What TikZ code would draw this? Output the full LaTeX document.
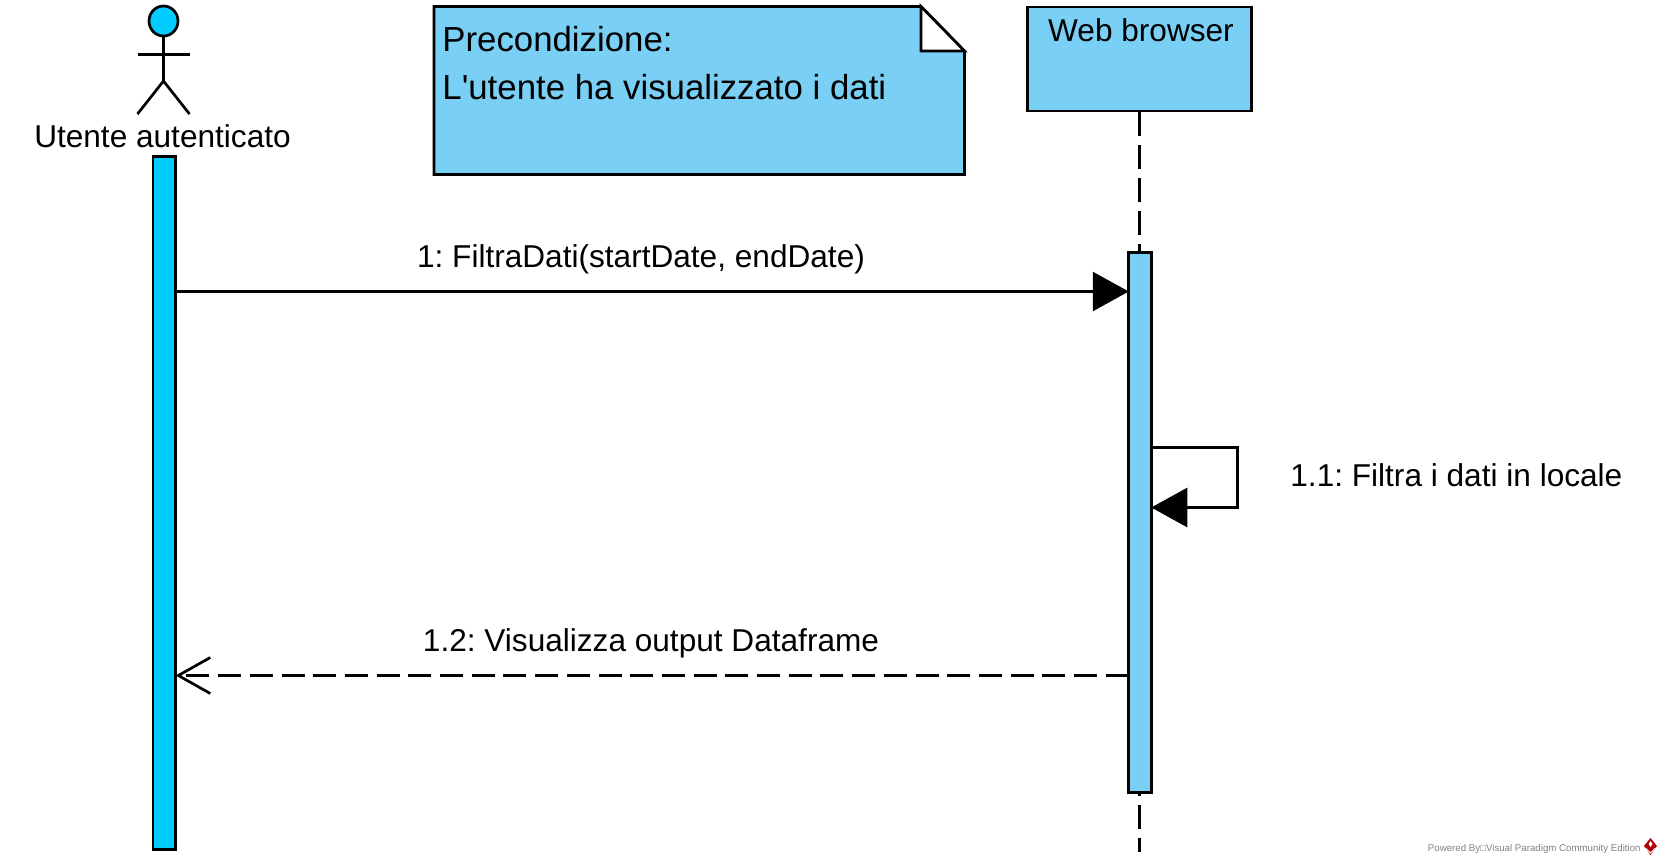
\documentclass[tikz,border=0pt]{standalone}
\usepackage{fontspec}
\setmainfont{Liberation Sans}
\usepackage{xcolor}
\usetikzlibrary{shapes, arrows.meta, positioning, calc}
\definecolor{actorblue}{HTML}{00CCFF}
\definecolor{boxblue}{HTML}{7ACFF5}
\frenchspacing
\tikzset{
    umlline/.style={
        line width=1.35pt,
        draw=black,
    },
    lifebox/.style={
        umlline,
        rectangle,
        fill=boxblue,
        inner sep=0pt,
        minimum width=112pt,
        minimum height=52pt,
    },
    activation/.style={
        umlline,
        rectangle,
        inner sep=0pt,
        outer sep=0pt,
        minimum width=11.25pt,
    },
    msgtext/.style={
        inner sep=0pt,
        anchor=base,
        font=\fontsize{15.8}{18}\selectfont,
    },
    call/.style={
        umlline,
        -{Triangle[length=18pt,width=19.5pt]},
    },
    reply/.style={
        umlline,
        dash pattern=on 11.5pt off 4.35pt,
        -{Straight Barb[length=16pt,width=18pt]},
    },
    lifeline/.style={
        umlline,
        dash pattern=on 12pt off 4.5pt,
    },
}

\begin{document}
\begin{tikzpicture}[x=0.5pt, y=-0.5pt]
      \useasboundingbox (0,0) rectangle (1662,864);

      \node[umlline, ellipse, fill=actorblue, inner sep=0pt, minimum width=14.5pt, minimum height=15pt] (head) at (163.5,21) {};
      \coordinate (hip) at (163.5,81);
      \coordinate (armL) at (137.5,54.5);
      \coordinate (armR) at (189.5,54.5);
      \coordinate (footL) at (137.5,114);
      \coordinate (footR) at (189.5,114);
      \draw[umlline] (head.south) -- (hip);
      \draw[umlline] (armL) -- (armR);
      \draw[umlline] (footL) -- (hip) -- (footR);
      \node[msgtext] (actor) at (162.5,147) {Utente autenticato};

      \node[activation, fill=actorblue, minimum height=346.5pt] (userbar) at (164.3,503) {};

      \draw[umlline, fill=boxblue] (434,6.5) -- (921,6.5) -- (964.5,51) -- (964.5,174.5) -- (434,174.5) -- cycle;
      \draw[umlline, fill=white] (921,6.5) -- (921,51) -- (964.5,51) -- cycle;
      \node[inner sep=0pt, anchor=north west, align=left, font=\fontsize{17.4}{24}\selectfont] (note) at (442,26) {Precondizione:\\L\textquotesingle utente ha visualizzato i dati};

      \node[lifebox] (browser) at (1139.5,59) {};
      \node[msgtext] (browsertext) at (1141,41.5) {Web browser};
      \coordinate (lifeend) at (1139.5,852);
      \draw[lifeline] (browser.south) -- (lifeend);

      \node[activation, fill=boxblue, minimum height=270pt] (webbar) at (1140,522.5) {};

      \coordinate (m1) at (0,291.5);
      \coordinate (m2a) at (0,447.5);
      \coordinate (m2b) at (0,507.5);
      \coordinate (m3) at (0,675.5);
      \coordinate (turn) at (1237.5,0);

      \draw[call] (userbar.east |- m1) -- (webbar.west |- m1);
      \draw[call] (webbar.east |- m2a) -- (turn |- m2a) -- (turn |- m2b) -- (webbar.east |- m2b);
      \draw[reply] (webbar.west |- m3) -- (userbar.east |- m3);

      \node[msgtext] (m1text) at (641,267) {1: FiltraDati(startDate, endDate)};
      \node[msgtext, anchor=base west] (m2text) at (1290,486) {1.1: Filtra i dati in locale};
      \node[msgtext] (m3text) at (651,651) {1.2: Visualizza output Dataframe};

      \node[inner sep=0pt, anchor=base east, text=gray, font=\fontsize{4.85}{6}\selectfont] (powered) at (1641,851) {Powered By□Visual Paradigm Community Edition};
      \fill[red!70!black] (1650.5,838) -- (1657,846) -- (1650.5,855) -- (1644,846) -- cycle;
      \draw[white, line width=0.4pt] (1645.5,848) -- (1650.5,853) -- (1655.5,848);
      \fill[white] (1650.5,841) -- (1652.5,844) -- (1650.5,847) -- (1648.5,844) -- cycle;

    \end{tikzpicture}
\end{document}
